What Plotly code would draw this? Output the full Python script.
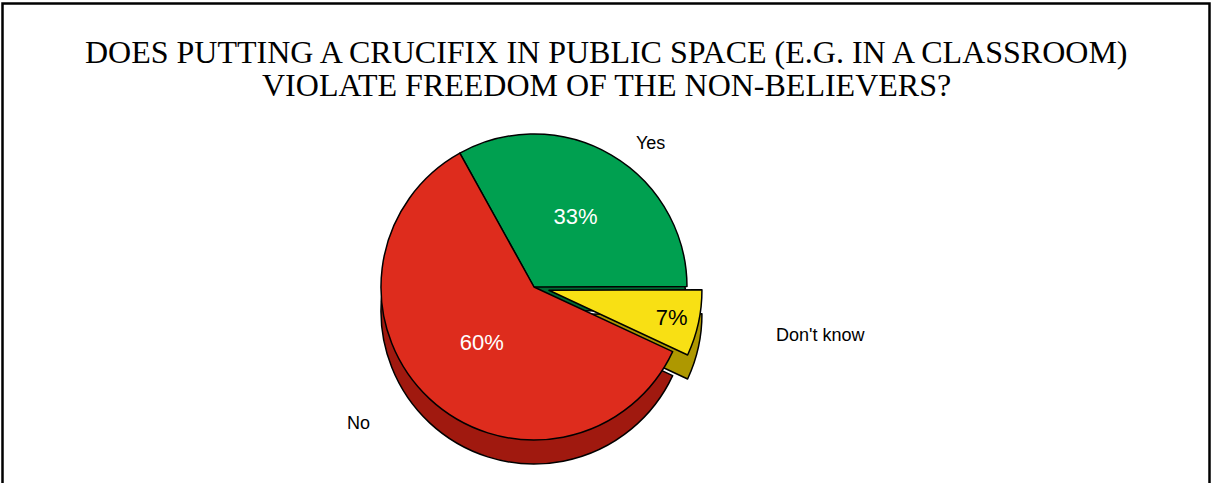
import plotly.graph_objects as go

labels = ["Yes", "Don't know", "No"]
values = [33, 7, 60]
pulls = [0, 0.1, 0]
title_lines = ["DOES PUTTING A CRUCIFIX IN PUBLIC SPACE (E.G. IN A CLASSROOM)",
               "VIOLATE FREEDOM OF THE NON-BELIEVERS?"]

# styling / placement (px, from top-left of the 1212x483 figure)
top_colors = ["#00A050", "#F8E014", "#DE2C1D"]
side_colors = ["#006B33", "#AE9800", "#A0190F"]
pct_colors = ["white", "black", "white"]
label_pos = [(650, 143), (820, 335), (358, 423)]
title_y = [52, 85]

W, H = 1212, 483
cx, cy = 534, 287          # pie centre in px
r = 153                    # pie radius in px
half = r * (1 + max(pulls))
depth = 24                 # 3D thickness in px


def dom(shift=0):
    return dict(
        x=[(cx - half) / W, (cx + half) / W],
        y=[1 - (cy + half + shift) / H, 1 - (cy - half + shift) / H],
    )


common = dict(labels=labels, values=values, pull=pulls, sort=False,
              direction="clockwise", rotation=-29, hoverinfo="label+percent")

fig = go.Figure()
# side (thickness) of the pie
fig.add_trace(go.Pie(**common, domain=dom(depth), textinfo="none",
                     marker=dict(colors=side_colors, line=dict(color="black", width=1.5))))
# top face with percentages
fig.add_trace(go.Pie(**common, domain=dom(0), textinfo="percent",
                     textposition="inside", insidetextorientation="horizontal",
                     textfont=dict(family="Liberation Sans", size=22, color=pct_colors),
                     marker=dict(colors=top_colors, line=dict(color="black", width=1.5))))

annotations = []
for line, ty in zip(title_lines, title_y):
    annotations.append(dict(text=line, x=0.5, y=1 - ty / H, xref="paper", yref="paper",
                            xanchor="center", yanchor="middle", showarrow=False,
                            font=dict(family="Liberation Serif", size=32, color="black")))
for lab, (lx, ly) in zip(labels, label_pos):
    annotations.append(dict(text=lab, x=lx / W, y=1 - ly / H, xref="paper", yref="paper",
                            xanchor="center", yanchor="middle", showarrow=False,
                            font=dict(family="Liberation Sans", size=18, color="black")))

fig.update_layout(
    width=W, height=H,
    margin=dict(l=0, r=0, t=0, b=0),
    paper_bgcolor="white", plot_bgcolor="white",
    showlegend=False,
    annotations=annotations,
    shapes=[dict(type="rect", xref="paper", yref="paper",
                 x0=2.5 / W, x1=1209.5 / W, y0=-0.2, y1=1 - 3.5 / H,
                 line=dict(color="black", width=2.5), fillcolor="rgba(0,0,0,0)")],
)

fig.write_html("out.html", config={"displayModeBar": False},
               post_script="document.body.style.margin='0';")
